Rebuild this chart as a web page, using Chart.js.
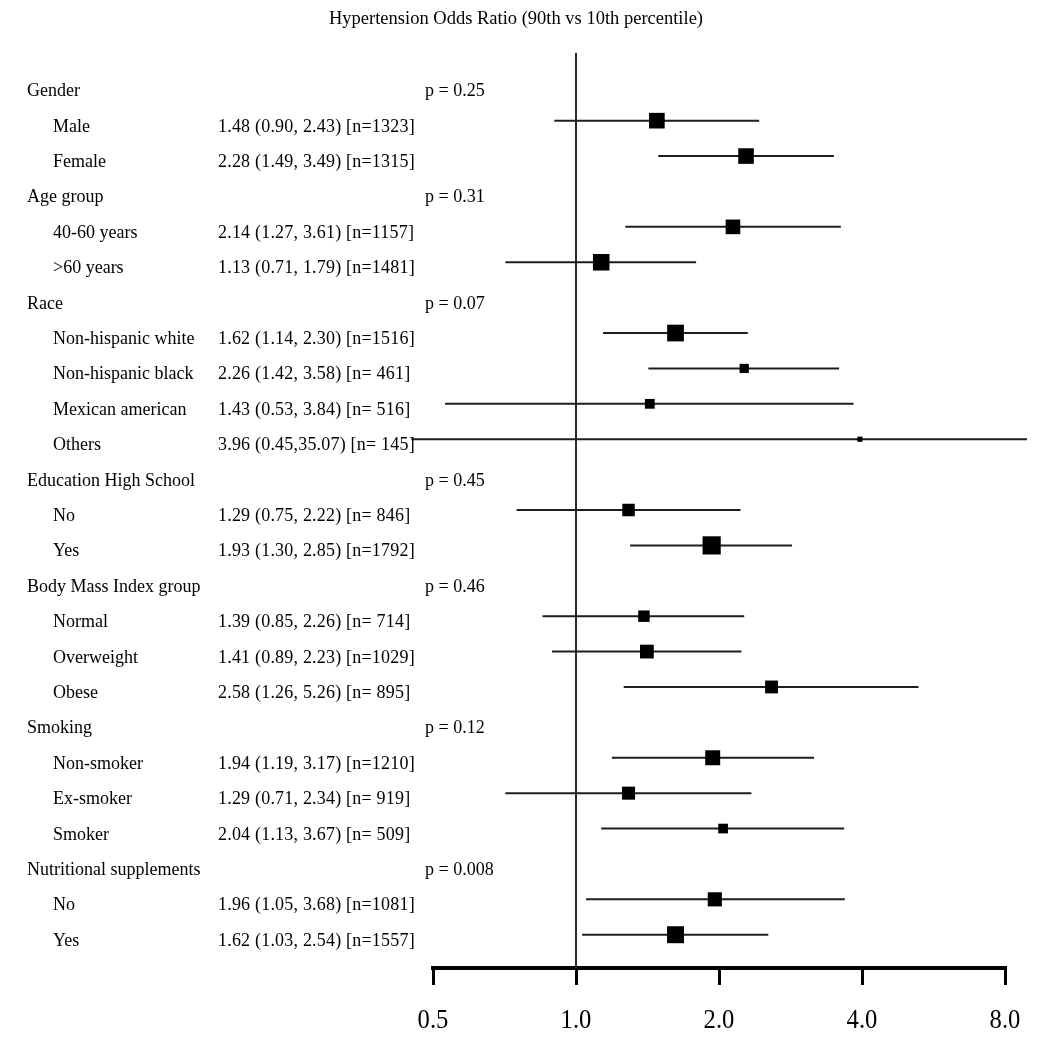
<!DOCTYPE html>
<html>
<head>
<meta charset="utf-8">
<script src="https://cdn.jsdelivr.net/npm/chart.js@4.4.1/dist/chart.umd.min.js"></script>
<style>
html,body{margin:0;padding:0;background:#fff;}
#wrap{width:1050px;height:1039px;position:relative;}
</style>
</head>
<body>
<div id="wrap"><canvas id="c" width="1050" height="1039"></canvas></div>
<script>
const chartTitle = 'Hypertension Odds Ratio (90th vs 10th percentile)';
const groupNames = ['Gender','Age group','Race','Education High School','Body Mass Index group','Smoking','Nutritional supplements'];
const groupPValues = ['p = 0.25','p = 0.31','p = 0.07','p = 0.45','p = 0.46','p = 0.12','p = 0.008'];
const groupCounts = [2,2,4,2,3,3,2];
const subgroupLabels = ['Male','Female','40-60 years','>60 years','Non-hispanic white','Non-hispanic black','Mexican american','Others','No','Yes','Normal','Overweight','Obese','Non-smoker','Ex-smoker','Smoker','No','Yes'];
const oddsRatio = [1.48,2.28,2.14,1.13,1.62,2.26,1.43,3.96,1.29,1.93,1.39,1.41,2.58,1.94,1.29,2.04,1.96,1.62];
const ciLower   = [0.90,1.49,1.27,0.71,1.14,1.42,0.53,0.45,0.75,1.30,0.85,0.89,1.26,1.19,0.71,1.13,1.05,1.03];
const ciUpper   = [2.43,3.49,3.61,1.79,2.30,3.58,3.84,35.07,2.22,2.85,2.26,2.23,5.26,3.17,2.34,3.67,3.68,2.54];
const sampleN   = [1323,1315,1157,1481,1516,461,516,145,846,1792,714,1029,895,1210,919,509,1081,1557];
const tickValues = [0.5,1,2,4,8];
const tickLabels = ['0.5','1.0','2.0','4.0','8.0'];

// row layout built from the arrays
const rows = [];
let k = 0;
groupNames.forEach((g, gi) => {
  rows.push({kind:'group', label:g, p:groupPValues[gi]});
  for (let j = 0; j < groupCounts[gi]; j++) { rows.push({kind:'item', label:subgroupLabels[k], idx:k}); k++; }
});
const itemRow = [];
rows.forEach((r, ri) => { if (r.kind === 'item') itemRow[r.idx] = ri; });

function ciText(i) {
  const hi = ciUpper[i];
  return oddsRatio[i].toFixed(2) + ' (' + ciLower[i].toFixed(2) + ',' + (hi >= 10 ? '' : ' ') + hi.toFixed(2) +
         ') [n=' + String(sampleN[i]).padStart(4, ' ') + ']';
}

const yMin = -0.912, yMax = 24.94;

const boxData = oddsRatio.map((v, i) => ({x:v, y:itemRow[i]}));
const boxRadius = sampleN.map(n => 0.43 * Math.sqrt(n) / Math.SQRT2);
const whiskerData = [];
oddsRatio.forEach((v, i) => {
  whiskerData.push({x:ciLower[i], y:itemRow[i]});
  whiskerData.push({x:ciUpper[i], y:itemRow[i]});
  whiskerData.push({x:ciUpper[i], y:null});
});

const textPlugin = {
  id: 'forestText',
  afterDraw(chart) {
    const ctx = chart.ctx, ys = chart.scales.y, xs = chart.scales.x;
    ctx.save();
    ctx.fillStyle = '#000';
    ctx.textBaseline = 'alphabetic';
    ctx.font = '18.5px "Liberation Serif"';
    ctx.textAlign = 'center';
    ctx.fillText(chartTitle, 516, 24);
    ctx.font = '18px "Liberation Serif"';
    ctx.textAlign = 'left';
    rows.forEach((r, ri) => {
      const y = ys.getPixelForValue(ri) + 11;
      if (r.kind === 'group') {
        ctx.letterSpacing = '0px';
        ctx.fillText(r.label, 27, y);
        ctx.fillText(r.p, 425, y);
      } else {
        ctx.letterSpacing = '0px';
        ctx.fillText(r.label, 53, y);
        ctx.letterSpacing = '0.2px';
        ctx.fillText(ciText(r.idx), 218, y);
      }
    });
    ctx.letterSpacing = '0px';
    ctx.font = '28px "Liberation Serif"';
    ctx.textAlign = 'center';
    tickValues.forEach((v, i) => {
      const x = xs.getPixelForValue(v);
      ctx.save();
      ctx.translate(x, 1028);
      ctx.scale(0.88, 1);
      ctx.fillText(tickLabels[i], 0, 0);
      ctx.restore();
    });
    ctx.restore();
  }
};

new Chart(document.getElementById('c'), {
  type: 'scatter',
  data: {
    datasets: [
      {
        label: 'OR',
        data: boxData,
        pointStyle: 'rect',
        pointRadius: boxRadius,
        pointHoverRadius: boxRadius,
        backgroundColor: '#000',
        borderWidth: 0,
        order: 0
      },
      {
        label: 'CI',
        data: whiskerData,
        showLine: true,
        spanGaps: false,
        borderColor: '#1e1e1e',
        borderWidth: 2,
        pointRadius: 0,
        pointHoverRadius: 0,
        clip: {left: 30, right: 22, top: 0, bottom: 0},
        order: 1
      },
      {
        label: 'ref',
        data: [{x:1, y:yMin}, {x:1, y:yMax}],
        showLine: true,
        borderColor: '#2a2a2a',
        borderWidth: 2,
        pointRadius: 0,
        pointHoverRadius: 0,
        order: 2
      }
    ]
  },
  options: {
    responsive: false,
    animation: false,
    events: [],
    layout: {padding: {left: 433, right: 45, top: 53, bottom: 54}},
    plugins: {legend: {display: false}, tooltip: {enabled: false}, title: {display: false}},
    scales: {
      x: {
        type: 'logarithmic',
        min: 0.5,
        max: 8,
        position: 'bottom',
        afterBuildTicks: (s) => { s.ticks = tickValues.map(v => ({value: v})); },
        ticks: {display: false},
        grid: {drawOnChartArea: false, drawTicks: true, tickLength: 17, lineWidth: 3, color: '#000'},
        border: {display: true, width: 4, color: '#000'}
      },
      y: {type: 'linear', reverse: true, min: yMin, max: yMax, display: false}
    }
  },
  plugins: [textPlugin]
});
</script>
</body>
</html>
